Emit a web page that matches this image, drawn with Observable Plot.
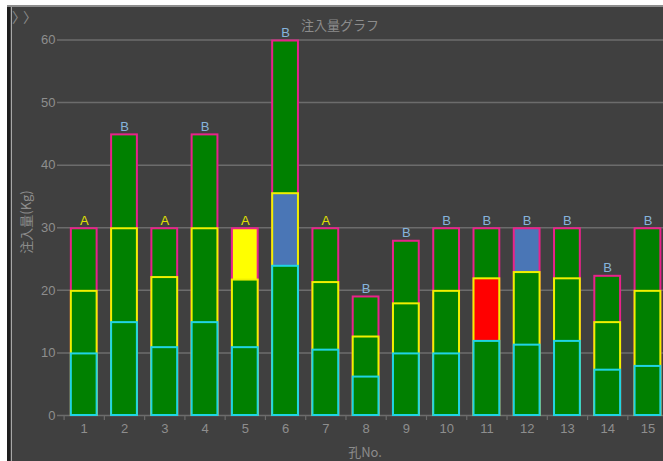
<!DOCTYPE html>
<html>
<head>
<meta charset="utf-8">
<script src="https://cdn.jsdelivr.net/npm/d3@7"></script>
<script src="https://cdn.jsdelivr.net/npm/@observablehq/plot@0.6"></script>
<style>
  html, body { margin: 0; padding: 0; background: #ffffff; }
  #wrap { position: relative; width: 663px; height: 461px; overflow: hidden; font-family: "Liberation Sans", Arial, sans-serif; }
  #panel { position: absolute; left: 7px; top: 5px; width: 700px; height: 500px; background: #404040; border-left: 3px solid #1e1e1e; box-sizing: border-box; }
  #vline { position: absolute; left: 10.5px; top: 5px; width: 1.5px; height: 500px; background: #a8a8a8; }
  #hline { position: absolute; left: 7px; top: 5px; width: 700px; height: 2px; background: #8e8e8e; }
  #chev { position: absolute; left: 12px; top: 8px; color: #8a8a8a; font-family: "Noto Sans CJK JP", sans-serif; font-size: 14px; line-height: 16px; letter-spacing: 4px; white-space: nowrap; }
  #title { position: absolute; left: 340px; top: 17px; transform: translateX(-50%); color: #8c8c8c; font-size: 13px; font-family: "Noto Sans CJK JP", sans-serif; white-space: nowrap; line-height: 16px; }
  #ylabel { position: absolute; left: 26px; top: 222px; transform: translate(-50%, -50%) rotate(-90deg); color: #8c8c8c; font-size: 13px; font-family: "Noto Sans CJK JP", sans-serif; white-space: nowrap; line-height: 16px; }
  #xlabel { position: absolute; left: 365px; top: 444px; transform: translateX(-50%); color: #8c8c8c; font-size: 13px; font-family: "Noto Sans CJK JP", sans-serif; white-space: nowrap; line-height: 16px; }
  #chart { position: absolute; left: 0; top: 0; }
  #chart svg { overflow: hidden; }
</style>
</head>
<body>
<div id="wrap">
  <div id="panel"></div>
  <div id="vline"></div>
  <div id="hline"></div>
  <div id="chev">〉〉</div>
  <div id="chart"></div>
  <div id="title">注入量グラフ</div>
  <div id="ylabel">注入量(Kg)</div>
  <div id="xlabel">孔No.</div>
</div>
<script>
// ---- data ----
const holes = ["1","2","3","4","5","6","7","8","9","10","11","12","13","14","15"];
// cumulative tops of each stacked section (Kg)
const lowerTop  = [10, 15, 11, 15, 11, 24, 10.6, 6.3, 10, 10, 12, 11.4, 12, 7.4, 8];
const middleTop = [20, 30, 22.2, 30, 21.8, 35.6, 21.4, 12.7, 18, 20, 22, 23, 22, 15, 20];
const upperTop  = [30, 45, 30, 45, 30, 60, 30, 19.1, 28, 30, 30, 30, 30, 22.4, 30];
// status of each section
const lowerStatus  = ["ok","ok","ok","ok","ok","ok","ok","ok","ok","ok","ok","ok","ok","ok","ok"];
const middleStatus = ["ok","ok","ok","ok","ok","info","ok","ok","ok","ok","error","ok","ok","ok","ok"];
const upperStatus  = ["ok","ok","ok","ok","warn","ok","ok","ok","ok","ok","ok","info","ok","ok","ok"];
const grades = ["A","B","A","B","A","B","A","B","B","B","B","B","B","B","B"];
const yTicks = [0, 10, 20, 30, 40, 50, 60];

// ---- styles ----
const statusFill = {ok: "#008000", warn: "#ffff00", error: "#ff0000", info: "#4a76b6"};
const layerStroke = {lower: "#20d4e4", middle: "#f0f000", upper: "#e8228a"};
const gradeColor = {A: "#e0e000", B: "#86b4dc"};
const axisColor = "#8e8e8e";
const gridColor = "#6c6c6c";

// each section drawn as a box from the base to its cumulative top;
// upper first so lower boxes (and their top edges) sit on top
const segments = [];
holes.forEach((h, i) => segments.push({hole: h, layer: "upper",  top: upperTop[i],  status: upperStatus[i]}));
holes.forEach((h, i) => segments.push({hole: h, layer: "middle", top: middleTop[i], status: middleStatus[i]}));
holes.forEach((h, i) => segments.push({hole: h, layer: "lower",  top: lowerTop[i],  status: lowerStatus[i]}));
const tops = holes.map((h, i) => ({hole: h, total: upperTop[i], grade: grades[i]}));

const W = 663, H = 461;
const mL = 57, mR = -4.6, inL = 6.6;
const step = (W - mR - mL - inL) / holes.length;

const chart = Plot.plot({
  width: W,
  height: H,
  marginLeft: mL,
  marginRight: mR,
  marginTop: 39.5,
  marginBottom: 46,
  style: {background: "transparent", fontFamily: "'Liberation Sans', Arial, sans-serif", overflow: "hidden"},
  x: {type: "band", domain: holes, paddingInner: 0.31, paddingOuter: 0.155, insetLeft: inL, round: false, axis: null},
  y: {domain: [0, 60], axis: null},
  color: {type: "identity"},
  marks: [
    Plot.ruleY(yTicks, {y: d => d, stroke: gridColor, strokeWidth: 1.5}),
    Plot.axisY({ticks: yTicks, tickSize: 0, tickPadding: 2, fontSize: 13, color: axisColor, label: null}),
    Plot.axisX({tickSize: 0, tickPadding: 8, fontSize: 13, color: axisColor, label: null}),
    Plot.axisX({tickSize: 5, tickFormat: () => "", dx: -step / 2, stroke: gridColor, strokeWidth: 1.2, label: null}),
    Plot.barY(segments, {
      x: "hole", y1: 0, y2: "top",
      fill: d => statusFill[d.status],
      stroke: d => layerStroke[d.layer],
      strokeWidth: 2,
      insetTop: 1, insetLeft: 1, insetRight: 1
    }),
    Plot.text(tops, {
      x: "hole", y: "total", text: "grade",
      fill: d => gradeColor[d.grade],
      fontSize: 13, lineAnchor: "bottom", dy: -3
    })
  ]
});
document.getElementById("chart").appendChild(chart);
</script>
</body>
</html>
